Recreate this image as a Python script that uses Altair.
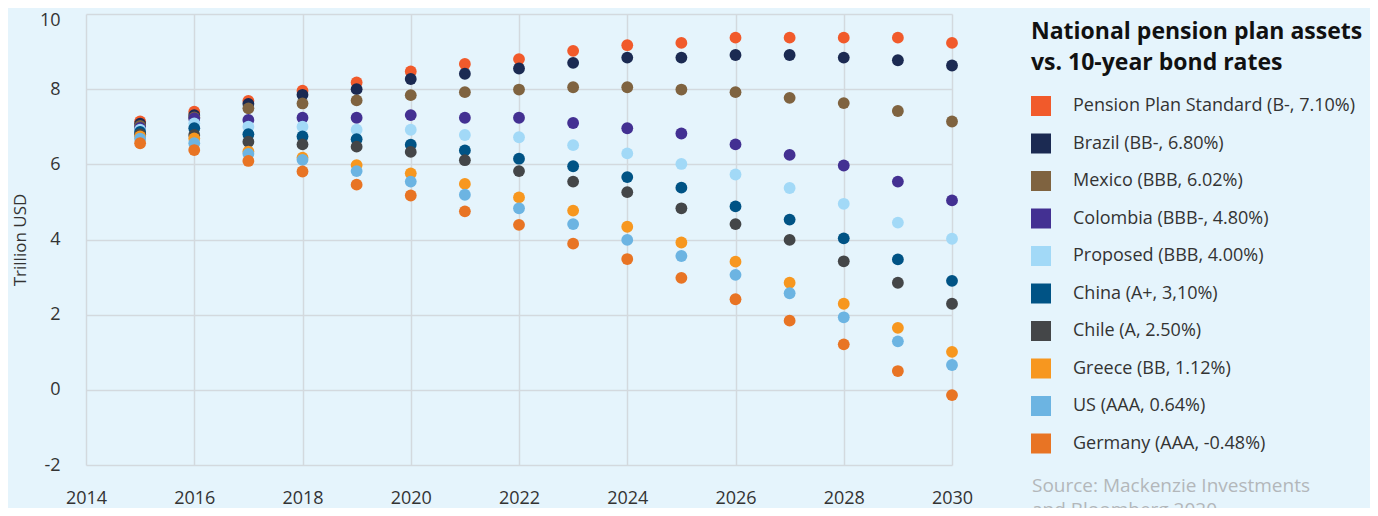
import altair as alt
import pandas as pd

years = list(range(2015, 2031))

series_names = [
    "Pension Plan Standard (B-, 7.10%)",
    "Brazil (BB-, 6.80%)",
    "Mexico (BBB, 6.02%)",
    "Colombia (BBB-, 4.80%)",
    "Proposed (BBB, 4.00%)",
    "China (A+, 3,10%)",
    "Chile (A, 2.50%)",
    "Greece (BB, 1.12%)",
    "US (AAA, 0.64%)",
    "Germany (AAA, -0.48%)",
]

colors = ["#F15A2B", "#1B2A52", "#7F6340", "#433092", "#A2D9F7",
          "#005385", "#444648", "#F7971F", "#6CB4E2", "#E87424"]

pension = [7.14, 7.40, 7.69, 7.96, 8.18, 8.47, 8.67, 8.80, 9.02, 9.17, 9.23, 9.37, 9.37, 9.37, 9.37, 9.23]
brazil = [7.08, 7.31, 7.61, 7.85, 8.00, 8.27, 8.41, 8.55, 8.70, 8.84, 8.84, 8.91, 8.91, 8.84, 8.77, 8.63]
mexico = [7.02, 7.25, 7.49, 7.62, 7.70, 7.84, 7.92, 7.99, 8.05, 8.05, 7.99, 7.92, 7.77, 7.63, 7.42, 7.14]
colombia = [6.97, 7.22, 7.18, 7.24, 7.24, 7.31, 7.24, 7.24, 7.10, 6.96, 6.82, 6.53, 6.25, 5.97, 5.54, 5.04]
proposed = [6.92, 7.09, 7.00, 7.00, 6.92, 6.92, 6.78, 6.72, 6.51, 6.29, 6.01, 5.73, 5.37, 4.95, 4.45, 4.02]
china = [6.86, 6.96, 6.80, 6.74, 6.67, 6.52, 6.37, 6.15, 5.95, 5.66, 5.38, 4.88, 4.53, 4.03, 3.47, 2.90]
chile = [6.80, 6.78, 6.60, 6.53, 6.47, 6.33, 6.11, 5.82, 5.54, 5.26, 4.83, 4.41, 3.99, 3.42, 2.85, 2.29]
greece = [6.74, 6.69, 6.34, 6.18, 5.98, 5.76, 5.48, 5.12, 4.77, 4.34, 3.92, 3.41, 2.85, 2.29, 1.65, 1.01]
us = [6.68, 6.56, 6.28, 6.12, 5.82, 5.54, 5.19, 4.83, 4.41, 3.99, 3.56, 3.06, 2.57, 1.93, 1.29, 0.66]
germany = [6.56, 6.38, 6.09, 5.81, 5.46, 5.17, 4.75, 4.39, 3.89, 3.48, 2.98, 2.41, 1.84, 1.21, 0.50, -0.14]

all_values = [pension, brazil, mexico, colombia, proposed, china, chile, greece, us, germany]

rows = []
for order, (name, vals) in enumerate(zip(series_names, all_values)):
    for yr, v in zip(years, vals):
        rows.append({"series": name, "year": yr, "value": v, "order": order})
df = pd.DataFrame(rows)

FONT = "Open Sans"

points = alt.Chart(df).mark_circle(size=140, opacity=1).encode(
    x=alt.X("year:Q",
            scale=alt.Scale(domain=[2014, 2030], nice=False, zero=False),
            axis=alt.Axis(values=list(range(2014, 2031, 2)), title=None,
                          labelExpr="'' + datum.value", labelFontSize=18,
                          labelColor="#333333", labelPadding=24, ticks=False,
                          labelFlush=False,
                          domain=False, gridColor="#D3D9DE", gridWidth=1.5,
                          labelFont=FONT)),
    y=alt.Y("value:Q",
            scale=alt.Scale(domain=[-2, 10], nice=False),
            axis=alt.Axis(values=list(range(-2, 11, 2)), title="Trillion USD",
                          labelExpr="'' + datum.value", labelFontSize=18,
                          labelColor="#333333", labelPadding=26, ticks=False,
                          labelBaseline={"condition": {"test": "datum.value == 10", "value": "top"}, "value": "middle"},
                          labelOffset={"condition": {"test": "datum.value == 10", "value": -3}, "value": 0},
                          domain=False, gridColor="#D3D9DE", gridWidth=1.5,
                          titleFontSize=17, titleFontWeight="normal",
                          titleColor="#333333", titlePadding=10,
                          labelFont=FONT, titleFont=FONT)),
    color=alt.Color("series:N",
                    scale=alt.Scale(domain=series_names, range=colors),
                    sort=series_names,
                    legend=alt.Legend(
                        title=["National pension plan assets", "vs. 10-year bond rates"],
                        titleFont=FONT, titleFontSize=23, titleFontWeight="bold",
                        titleColor="#111111", titleLineHeight=31, titlePadding=21,
                        titleLimit=500,
                        labelFont=FONT, labelFontSize=18, labelColor="#333333",
                        symbolType="square", symbolSize=400, symbolStrokeWidth=0,
                        symbolOpacity=1, labelOffset=22, rowPadding=17.5,
                        orient="none", legendX=945, legendY=7, labelLimit=400)),
    order=alt.Order("order:Q"),
)

source = alt.Chart(pd.DataFrame({"t": ["Source: Mackenzie Investments\nand Bloomberg 2020"]})).mark_text(
    align="left", baseline="top", font=FONT, fontSize=19, color="#B3B7BA",
    lineBreak="\n", lineHeight=24,
).encode(x=alt.value(946), y=alt.value(463), text="t:N")

chart = alt.layer(points, source).properties(
    width=866, height=451,
    autosize=alt.AutoSizeParams(type="none"),
    padding={"left": 78, "top": 6, "right": 418, "bottom": 43},
    background="#E5F4FC",
).configure_view(stroke=None, fill="#E5F4FC")

chart.save("out.html", embed_options={"renderer": "svg", "actions": False})
